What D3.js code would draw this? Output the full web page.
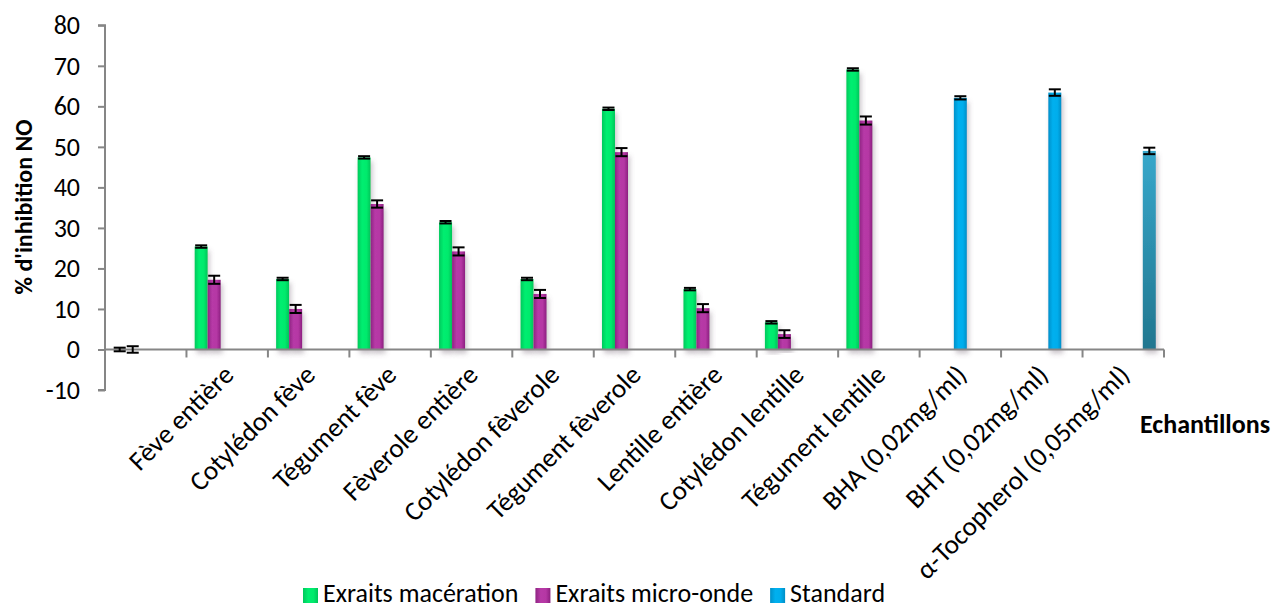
<!DOCTYPE html>
<html>
<head>
<meta charset="utf-8">
<script src="https://cdn.jsdelivr.net/npm/d3@7"></script>
<style>
  html, body { margin: 0; padding: 0; background: #ffffff; }
  svg text { font-family: Carlito, Lato, "Open Sans", sans-serif; fill: #000; }
</style>
</head>
<body>
<svg id="chart" width="1275" height="608"></svg>
<script>
// Samples (the first slot is an unlabelled blank control)
const categories = ["", "Fève entière", "Cotylédon fève", "Tégument fève", "Fèverole entière",
  "Cotylédon fèverole", "Tégument fèverole", "Lentille entière", "Cotylédon lentille",
  "Tégument lentille", "BHA (0,02mg/ml)", "BHT (0,02mg/ml)", "α-Tocopherol (0,05mg/ml)"];

// % NO inhibition, maceration extracts, with standard deviations
const maceration    = [0, 25.4, 17.4, 47.4, 31.4, 17.4, 59.4, 14.9, 6.7, 69.1, null, null, null];
const macerationSd  = [0.45, 0.3, 0.3, 0.3, 0.3, 0.3, 0.3, 0.3, 0.3, 0.3, null, null, null];
// % NO inhibition, microwave extracts
const microOnde     = [0, 17.2, 10.0, 35.9, 24.2, 13.7, 48.7, 10.2, 3.8, 56.5, null, null, null];
const microOndeSd   = [0.8, 1.0, 1.0, 0.9, 1.0, 1.0, 1.0, 1.0, 0.95, 1.0, null, null, null];
// Reference antioxidants
const standardBHA   = [null, null, null, null, null, null, null, null, null, null, 62.1, null, null];
const standardBHASd = [null, null, null, null, null, null, null, null, null, null, 0.4, null, null];
const standardBHT   = [null, null, null, null, null, null, null, null, null, null, null, 63.4, null];
const standardBHTSd = [null, null, null, null, null, null, null, null, null, null, null, 0.8, null];
const tocopherol    = [null, null, null, null, null, null, null, null, null, null, null, null, 49.0];
const tocopherolSd  = [null, null, null, null, null, null, null, null, null, null, null, null, 0.8];

const yTicks = [-10, 0, 10, 20, 30, 40, 50, 60, 70, 80];
const legendLabels = ["Exraits macération", "Exraits micro-onde", "Standard"];

const series = [
  { key: "mac",  values: maceration,  sd: macerationSd,  fill: "gMac" },
  { key: "mo",   values: microOnde,   sd: microOndeSd,   fill: "gMo" },
  { key: "bha",  values: standardBHA, sd: standardBHASd, fill: "gStd" },
  { key: "bht",  values: standardBHT, sd: standardBHTSd, fill: "gStd" },
  { key: "toco", values: tocopherol,  sd: tocopherolSd,  fill: "gToco" }
];

const svg = d3.select("#chart");
const FS = 26;

const x0 = d3.scaleBand().domain(categories).range([105, 1164]).paddingInner(0).paddingOuter(0);
const x1 = d3.scaleBand().domain(series.map(s => s.key)).range([0, x0.bandwidth()])
  .paddingInner(0).paddingOuter(0.63);
const y = d3.scaleLinear().domain([-10, 80]).range([390, 25.3]);

// Gradients and shadow
const defs = svg.append("defs");
function hGrad(id, stops) {
  const g = defs.append("linearGradient").attr("id", id)
    .attr("x1", "0%").attr("x2", "100%").attr("y1", "0%").attr("y2", "0%");
  stops.forEach(([o, c]) => g.append("stop").attr("offset", o).attr("stop-color", c));
}
hGrad("gMac", [["0%", "#00c95c"], ["35%", "#00ee70"], ["70%", "#00ea6c"], ["100%", "#00c55a"]]);
hGrad("gMo",  [["0%", "#8f2483"], ["35%", "#b73aa7"], ["70%", "#b537a4"], ["100%", "#8c2080"]]);
hGrad("gStd", [["0%", "#0090c9"], ["35%", "#00b0ef"], ["70%", "#00adec"], ["100%", "#008ec6"]]);
const tg = defs.append("linearGradient").attr("id", "gToco")
  .attr("x1", "0%").attr("x2", "0%").attr("y1", "0%").attr("y2", "100%");
tg.append("stop").attr("offset", "0%").attr("stop-color", "#37a7cb");
tg.append("stop").attr("offset", "100%").attr("stop-color", "#21768f");
const sh = defs.append("filter").attr("id", "shadow")
  .attr("x", "-50%").attr("y", "-10%").attr("width", "200%").attr("height", "130%");
sh.append("feDropShadow").attr("dx", 2).attr("dy", 4).attr("stdDeviation", 2.5)
  .attr("flood-color", "#6a5a6a").attr("flood-opacity", 0.35);

// Y axis
const yAxis = svg.append("g").attr("transform", "translate(105,0)")
  .call(d3.axisLeft(y).tickValues(yTicks).tickSize(7).tickPadding(18).tickFormat(d => String(d)));
yAxis.select(".domain").attr("stroke", "#868686").attr("stroke-width", 2)
  .attr("d", `M-7,${y(80)}H0V${y(-10)}H-7`);
yAxis.selectAll(".tick line").attr("stroke", "#868686").attr("stroke-width", 2);
yAxis.selectAll(".tick text").attr("font-size", FS).attr("font-family", null);

// Bars
const gBars = svg.append("g");
series.forEach(s => {
  const pts = categories.map((c, i) => ({ c, v: s.values[i], e: s.sd[i] })).filter(d => d.v !== null);
  gBars.selectAll(null).data(pts).join("rect")
    .attr("x", d => x0(d.c) + x1(s.key))
    .attr("width", x1.bandwidth())
    .attr("y", d => Math.min(y(d.v), y(0)))
    .attr("height", d => Math.abs(y(0) - y(d.v)))
    .attr("fill", `url(#${s.fill})`)
    .attr("filter", "url(#shadow)");
});

// X axis at zero
const xAxis = svg.append("g").attr("transform", `translate(0,${y(0)})`);
xAxis.append("line").attr("x1", 105).attr("x2", x0.range()[1])
  .attr("stroke", "#868686").attr("stroke-width", 2);
xAxis.selectAll("line.tk").data(categories.map(c => x0(c) + x0.bandwidth()))
  .join("line").attr("class", "tk")
  .attr("x1", d => d).attr("x2", d => d).attr("y1", 0).attr("y2", 8)
  .attr("stroke", "#868686").attr("stroke-width", 2);

// Error bars
const gErr = svg.append("g").attr("stroke", "#000").attr("stroke-width", 2).attr("fill", "none");
series.forEach(s => {
  const pts = categories.map((c, i) => ({ c, v: s.values[i], e: s.sd[i] })).filter(d => d.v !== null);
  pts.forEach(d => {
    const cx = x0(d.c) + x1(s.key) + x1.bandwidth() / 2;
    const hw = x1.bandwidth() / 2 - 0.5;
    const yt = y(d.v + d.e), yb = y(d.v - d.e);
    gErr.append("line").attr("x1", cx).attr("x2", cx).attr("y1", yt).attr("y2", yb);
    gErr.append("line").attr("x1", cx - hw).attr("x2", cx + hw).attr("y1", yt).attr("y2", yt);
    gErr.append("line").attr("x1", cx - hw).attr("x2", cx + hw).attr("y1", yb).attr("y2", yb);
  });
});

// Category labels, rotated
svg.append("g").selectAll("text").data(categories.filter(c => c !== "")).join("text")
  .attr("font-size", 27)
  .attr("text-anchor", "end")
  .attr("transform", c => `translate(${x0(c) + x0.bandwidth() / 2 + 8},${y(0) + 27}) rotate(-45)`)
  .text(c => c);

// Axis titles
svg.append("text").attr("font-size", 24).attr("font-weight", "bold")
  .attr("text-anchor", "middle")
  .attr("transform", "translate(32,207) rotate(-90)")
  .text("% d'inhibition NO");
svg.append("text").attr("font-size", FS).attr("font-weight", "bold")
  .attr("x", 1140).attr("y", 433)
  .text("Echantillons");

// Legend
const legendFills = ["gMac", "gMo", "gStd"];
const lg = svg.append("g");
let lx = 303;
legendLabels.forEach((t, i) => {
  lg.append("rect").attr("x", lx).attr("y", 588).attr("width", 15).attr("height", 15)
    .attr("fill", `url(#${legendFills[i]})`);
  const tx = lg.append("text").attr("x", lx + 20).attr("y", 602).attr("font-size", FS).text(t);
  lx += 20 + tx.node().getComputedTextLength() + 17;
});
</script>
</body>
</html>
